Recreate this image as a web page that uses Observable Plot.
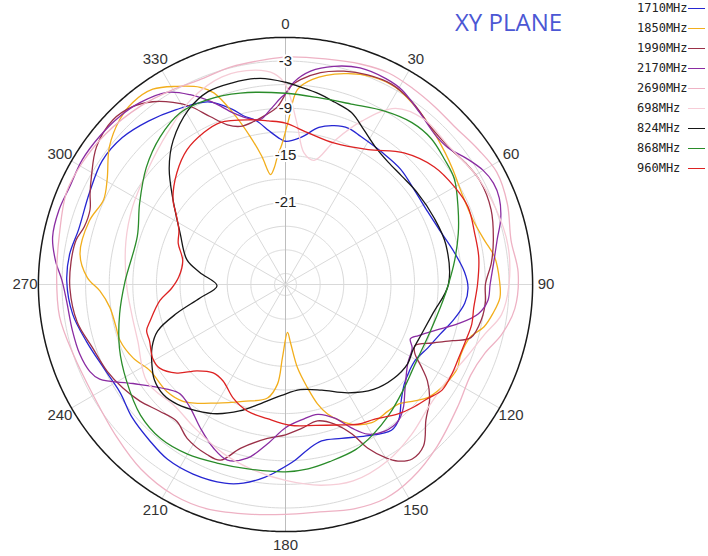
<!DOCTYPE html>
<html><head><meta charset="utf-8">
<script src="https://cdn.jsdelivr.net/npm/d3@7"></script>
<script src="https://cdn.jsdelivr.net/npm/@observablehq/plot@0.6"></script>
<style>
body{margin:0;background:#fff;}
#wrap{position:relative;width:708px;height:556px;}
#title{position:absolute;left:455px;top:10px;font:24px/1 "Open Sans",sans-serif;color:#4b57d4;white-space:nowrap;}
#legend{position:absolute;left:637px;top:-2px;font:12px/20px "DejaVu Sans Mono",monospace;color:#222;}
.row{display:flex;align-items:center;height:20px;}
.row span{display:inline-block;width:51px;}
.row i{display:inline-block;width:17px;height:0;border-top:1.4px solid;}
</style></head>
<body><div id="wrap"><div id="title">XY PLANE</div><div id="legend"></div></div>
<script>
// series names & colours (legend order)
const names = ["1710MHz","1850MHz","1990MHz","2170MHz","2690MHz","698MHz","824MHz","868MHz","960MHz"];
const colors = ["#2626d2","#f2ae1c","#9a3048","#8a2ca2","#eeb2c4","#f6cdd7","#161616","#2a8c2a","#dd2222"];
const angleTicks = [0,30,60,90,120,150,180,210,240,270,300,330];
const ringTicks = [-30,-27,-24,-21,-18,-15,-12,-9,-6,-3];
const ringLabels = [-3,-9,-15,-21];

// [angle (deg, clockwise from top), gain (dB)]
const s1710 = [[0,-13.2],[6,-12.6],[12,-11.0],[17,-10.3],[22,-10.0],[27,-10.3],[36,-10.6],[45,-10.7],[54,-11.1],[63,-11.1],[71,-10.6],[79,-9.6],[86,-8.6],[91,-8.2],[96,-8.5],[102,-9.6],[108,-10.8],[114,-11.6],[120,-12.3],[125,-12.2],[130,-11.7],[135,-10.6],[140,-9.0],[144,-8.5],[152,-9.6],[160,-10.6],[167,-11.0],[172,-10.3],[177,-9.0],[182,-7.8],[186,-6.8],[192,-5.6],[197,-5.0],[206,-4.6],[214,-4.6],[221,-5.1],[229,-5.6],[237,-6.3],[245,-6.0],[254,-5.1],[262,-4.1],[271,-3.6],[278,-3.7],[285,-4.2],[295,-3.9],[304,-3.3],[312,-3.5],[320,-4.3],[328,-5.2],[337,-6.2],[343,-8.1],[346,-9.3],[350,-10.3],[354,-11.8],[358,-12.9]];
const s1850 = [[1,-10.6],[3.5,-6.6],[7.5,-5.1],[15.5,-3.6],[22.5,-2.8],[29,-2.7],[36,-3.4],[43.5,-4.3],[50.5,-5.1],[55.5,-5.6],[63,-6.2],[71,-6.2],[77.5,-5.5],[82.5,-4.6],[89,-4.2],[93.5,-4.1],[98,-4.8],[102,-5.6],[106,-7.0],[112,-7.4],[116,-7.1],[120,-7.3],[125,-7.8],[128.5,-8.3],[132,-9.3],[136.5,-10.5],[141,-10.7],[148,-10.7],[154,-11.6],[158,-12.7],[162,-14.1],[165,-15.7],[168,-18.0],[171.8,-20.7],[175,-23.9],[177.6,-25.3],[182.4,-22.1],[184.6,-18.7],[189,-16.8],[200,-15.6],[210,-14.0],[221,-11.7],[228,-11.1],[237.5,-11.0],[244.3,-9.9],[251.3,-9.2],[256,-9.2],[262.5,-8.9],[268,-7.8],[272,-6.2],[278.5,-5.0],[288,-5.2],[295,-5.9],[300.5,-5.1],[308,-3.0],[314.8,-1.7],[320,-1.2],[325.8,-1.4],[331.3,-2.7],[336.6,-4.1],[339.5,-5.4],[343,-8.6],[346.5,-12.0],[349.5,-14.8],[352.3,-17.3],[354.5,-16.5],[356.5,-15.0],[358.5,-13.6]];
const s1990 = [[1.5,-6.2],[4.2,-5.3],[9.4,-4.1],[15.3,-3.3],[21.4,-2.8],[28,-2.6],[35,-3.2],[43,-4.2],[50,-4.3],[56,-3.8],[62,-3.4],[70,-3.6],[78,-4.4],[84,-5.1],[90,-6.0],[95,-5.9],[100,-6.1],[106,-6.9],[108.6,-9.0],[111.7,-11.3],[115.3,-13.2],[118,-12.8],[121.4,-11.1],[124.2,-9.6],[128.5,-8.0],[134,-6.6],[139.5,-4.4],[144,-4.0],[147.5,-4.8],[150,-6.0],[153.3,-8.1],[156,-10.6],[160.6,-12.6],[166.8,-13.6],[173.6,-13.0],[180,-12.3],[186.7,-11.7],[195.4,-9.8],[200.3,-7.6],[204.8,-7.6],[212.6,-8.2],[218.5,-9.2],[224.8,-8.7],[231.3,-7.7],[237.5,-6.9],[244,-6.2],[251.8,-5.6],[259.8,-4.5],[269,-4.0],[276,-4.0],[282,-4.2],[286,-4.8],[291,-4.8],[295,-4.0],[299,-3.2],[306,-1.7],[313.6,-1.1],[319.3,-1.6],[324,-2.7],[328.3,-4.2],[331.8,-5.7],[335.8,-8.0],[340,-9.8],[344,-10.5],[349,-10.3],[354,-9.6],[357.4,-8.8]];
const s2170 = [[0.6,-6.9],[2.3,-5.7],[6.7,-4.1],[12.5,-3.0],[19,-2.3],[26,-2.3],[31,-2.6],[38,-3.7],[45,-4.5],[50,-4.4],[55,-3.4],[60,-2.4],[64,-2.0],[68,-2.1],[73,-2.8],[78,-3.9],[84,-4.8],[90,-5.4],[94.5,-5.6],[98.6,-6.6],[102.8,-8.9],[107,-11.5],[111,-13.3],[113.5,-14.1],[116.6,-13.4],[122.9,-12.9],[130.9,-11.3],[136.4,-9.7],[140.5,-8.9],[145.9,-8.9],[151.2,-9.7],[155.2,-11.3],[159.8,-13.3],[166,-14.4],[173,-14.1],[180,-13.2],[186.5,-11.0],[192.4,-8.8],[198.3,-7.9],[203.8,-8.7],[210.7,-10.2],[217.7,-11.6],[224,-12.1],[228.6,-11.3],[237,-8.3],[243,-4.9],[246,-4.2],[251.4,-3.8],[257.8,-3.7],[265.8,-3.5],[271,-3.0],[276,-2.0],[281.5,-1.2],[288.2,-1.1],[294.3,-1.3],[301.5,-1.1],[308.5,-1.2],[315.3,-1.4],[321.3,-1.8],[328.3,-2.7],[333.3,-4.4],[338.3,-6.5],[343,-8.6],[347,-9.7],[351.3,-10.2],[355,-9.1],[358.5,-7.7]];
const s2690 = [[0,-2.5],[10,-2.3],[19,-1.8],[26,-1.5],[33,-1.7],[40,-1.9],[47,-2.0],[55,-1.5],[62,-1.0],[70,-1.4],[79,-2.2],[87,-1.8],[96,-2.1],[103,-3.2],[109,-4.6],[116,-5.2],[125,-4.6],[137,-3.2],[147,-2.0],[155,-1.4],[163,-1.6],[172,-2.2],[180,-2.2],[188,-1.9],[199,-1.2],[208,-1.1],[218,-1.6],[228,-2.5],[240,-3.2],[252,-3.0],[262,-2.4],[272,-2.3],[282,-2.0],[293,-1.2],[301,-1.3],[310,-1.6],[321,-2.2],[330,-2.8],[337,-3.2],[346,-2.9],[355,-2.7]];
const s698 = [[0,-6.0],[4,-10.8],[8,-14.5],[13,-15.2],[19,-12.0],[25,-8.5],[32,-5.0],[40,-4.0],[50,-4.2],[60,-3.5],[70,-3.0],[80,-2.7],[90,-3.0],[98,-3.7],[104,-5.3],[111,-6.5],[120,-7.5],[130,-7.5],[140,-6.5],[150,-5.5],[161,-5.0],[170,-5.5],[180,-6.5],[190,-7.5],[200,-8.5],[212,-9.8],[222,-10.5],[235,-9.9],[249,-11.3],[259,-11.5],[270,-11.2],[285,-10.4],[297,-9.6],[310,-8.6],[322,-7.0],[333,-5.0],[343,-3.8],[352,-3.9],[357,-4.6]];
const s824 = [[0,-5.7],[4,-6.2],[10,-6.8],[15,-7.4],[21,-8.0],[27,-9.4],[33,-10.5],[40,-11.1],[47,-11.2],[55,-11.0],[66,-10.7],[76,-10.4],[90,-10.7],[101,-12.3],[110,-13.0],[117,-13.2],[123,-12.9],[131,-13.2],[140,-14.0],[150,-15.5],[161,-17.2],[172,-17.9],[182,-17.3],[192,-15.9],[200,-14.3],[208,-12.8],[215,-11.8],[222,-10.9],[228,-10.5],[234,-10.8],[239,-11.6],[245,-12.7],[250,-14.1],[255,-17.0],[261,-20.4],[269,-22.7],[278,-20.4],[284,-18.5],[296,-16.5],[307,-13.5],[315,-10.5],[322,-8.2],[331,-6.0],[338,-5.0],[345,-4.9],[353,-5.0]];
const s868 = [[0,-7.1],[10,-7.3],[20,-7.0],[30,-6.0],[38,-5.3],[45,-5.2],[52,-5.7],[58,-6.1],[66,-7.4],[73.5,-8.5],[82,-9.7],[90,-10.7],[96,-11.3],[109,-12.1],[121,-12.1],[132,-11.3],[142,-10.2],[150,-9.3],[157,-8.6],[166,-8.2],[173,-7.8],[180,-7.6],[191,-7.5],[201,-7.1],[210,-6.5],[219,-6.2],[228,-6.6],[239,-7.8],[249,-8.8],[260,-10.0],[271,-11.0],[288,-11.6],[299,-10.2],[310,-8.3],[319.6,-6.8],[328.4,-5.8],[337,-5.9],[346.7,-6.4]];
const s960 = [[0,-10.9],[8.3,-11.9],[18.8,-12.4],[31.5,-11.3],[42,-8.9],[51.7,-7.3],[60,-6.6],[67,-6.2],[75,-6.5],[82,-6.6],[90,-7.0],[97,-7.3],[102,-7.2],[107,-7.4],[113,-7.5],[118,-7.4],[124,-7.4],[128.5,-8.2],[134,-8.9],[139,-9.6],[146.7,-10.9],[152.6,-11.4],[160,-12.4],[168,-13.1],[178,-13.5],[187.7,-14.2],[196.8,-14.6],[204.7,-15.5],[212.9,-16.8],[219.3,-16.9],[225.7,-15.7],[230.8,-13.6],[236.4,-12.2],[241,-12.1],[247.5,-12.7],[251.6,-12.8],[255,-13.6],[262.7,-15.3],[268,-16.9],[274,-17.8],[283,-18.0],[291,-16.8],[297,-16.2],[303,-14.8],[307,-13.5],[315.8,-11.6],[323.8,-10.2],[331.5,-9.5],[338,-9.2],[348,-10.0],[354,-10.5]];
const seriesList = [s1710,s1850,s1990,s2170,s2690,s698,s824,s868,s960];

// polar mapping on the sphere: centre of the plot = pole
const DBMIN = -31.4;           // gain at the centre
const LABEL_DB = 1.7;          // angle labels sit just outside the 0 dB ring
const FRAME_DB = 2.4;          // frame extends a little beyond the 0 dB ring
const lon = a => 180 - a;
const lat = db => 90 - (db - DBMIN);

const table = seriesList.flatMap((s, k) => s.map(([a, db]) => ({name: names[k], a, db})));

const chart = Plot.plot({
  width: 708, height: 556,
  marginLeft: 19, marginRight: 157, marginTop: 18, marginBottom: 6,
  projection: {type: "azimuthal-equidistant", rotate: [0, -90],
    domain: d3.geoCircle().center([0, 90]).radius(FRAME_DB - DBMIN)()},
  color: {domain: names, range: colors},
  style: {fontFamily: "'Liberation Sans', Arial, sans-serif", fontSize: "15px", background: "white", overflow: "visible"},
  marks: [
    Plot.geo(ringTicks, {geometry: d => d3.geoCircle().center([0, 90]).radius(d - DBMIN).precision(1)(), stroke: "#d9d9d9", fill: "none", strokeWidth: 1}),
    Plot.link(angleTicks, {x1: a => lon(a), y1: () => 90, x2: a => lon(a), y2: () => lat(0), stroke: a => a % 180 === 0 ? "#bdbdbd" : "#d9d9d9", strokeWidth: 1}),
    Plot.geo([0], {geometry: d => d3.geoCircle().center([0, 90]).radius(d - DBMIN).precision(0.5)(), stroke: "#1a1a1a", fill: "none", strokeWidth: 1.5}),
    Plot.line(table, {x: d => lon(d.a), y: d => lat(d.db), z: "name", stroke: "name", curve: "catmull-rom-closed", strokeWidth: 1.3}),
    Plot.text(ringLabels, {x: () => lon(0), y: d => lat(d), text: d => String(d), fill: "#222", stroke: "white", strokeWidth: 4, paintOrder: "stroke", fontSize: 15}),
    Plot.text(angleTicks, {x: a => lon(a), y: () => lat(LABEL_DB), text: a => String(a), fill: "#333", fontSize: 15})
  ]
});
document.getElementById("wrap").prepend(chart);

const legend = document.getElementById("legend");
names.forEach((n, i) => {
  const row = document.createElement("div");
  row.className = "row";
  row.innerHTML = `<span>${n}</span><i style="border-color:${colors[i]}"></i>`;
  legend.appendChild(row);
});
</script>
</body></html>
